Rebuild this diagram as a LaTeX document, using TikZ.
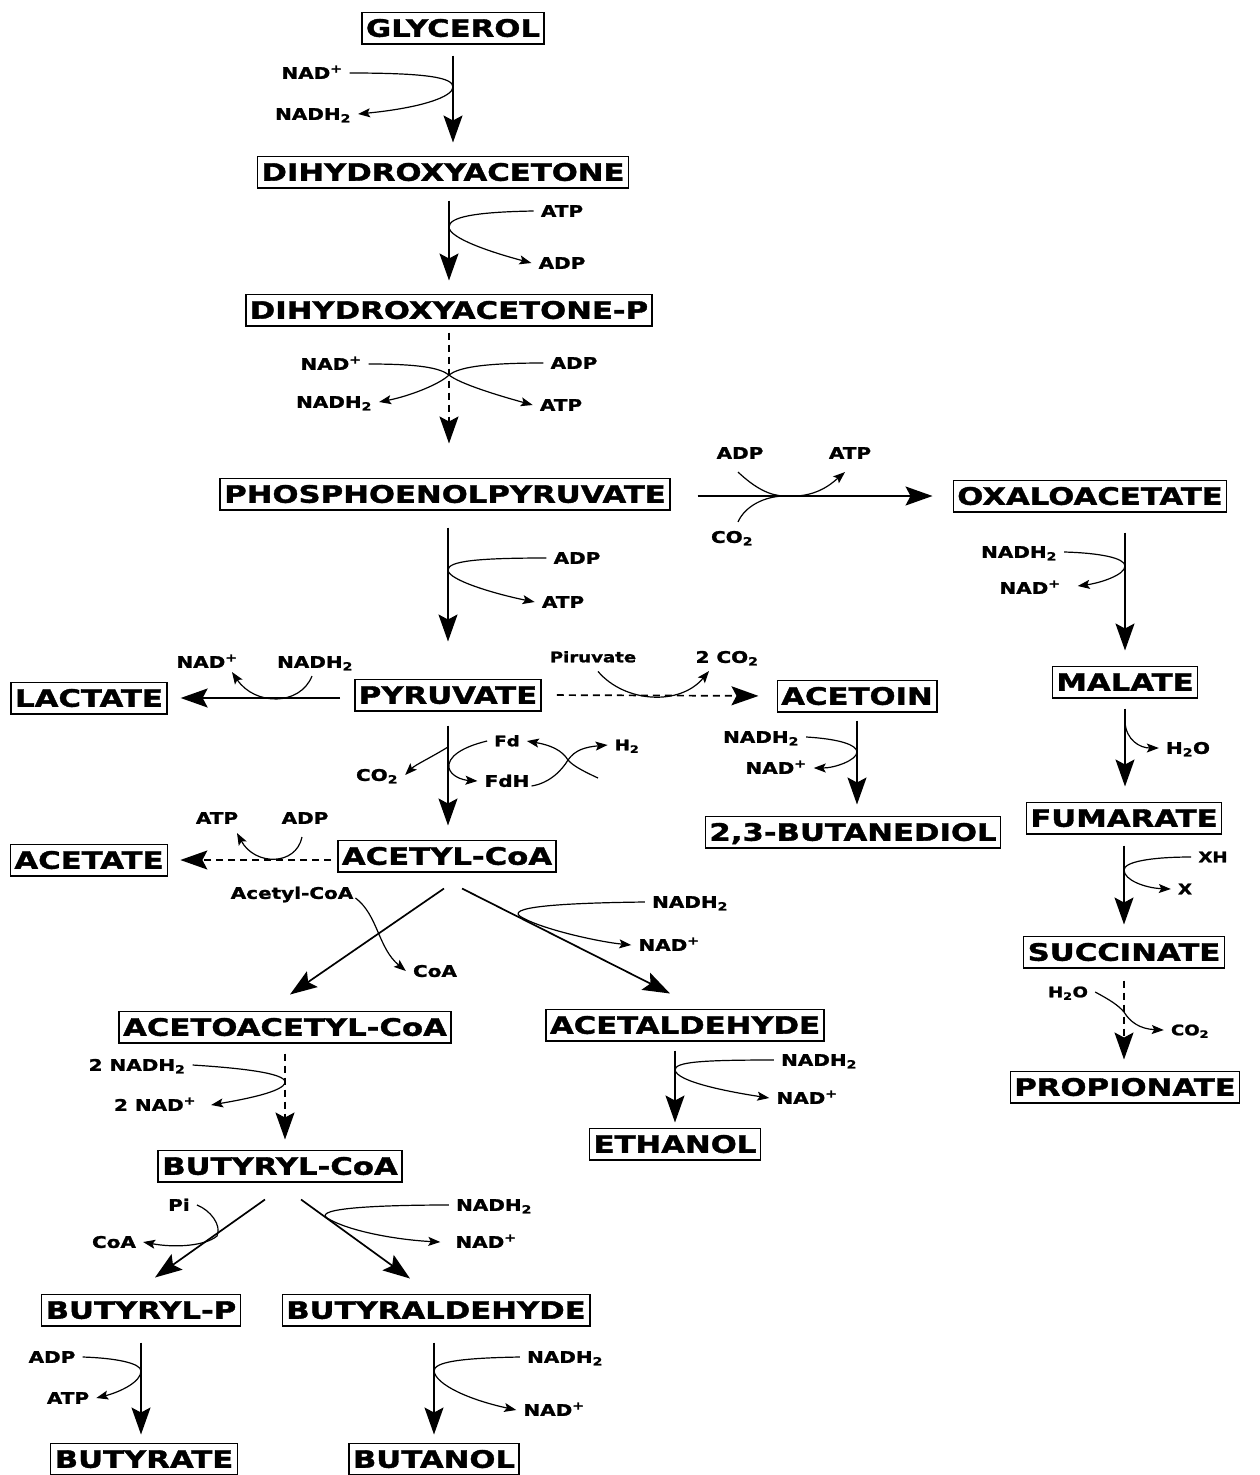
\documentclass[tikz,border=0pt]{standalone}
\usepackage{fontspec}
\setmainfont{DejaVu Sans}[FakeStretch=1.25, BoldFeatures={FakeBold=1.5}]
\newfontfamily\boxfont{DejaVu Sans}[FakeStretch=1.28, BoldFeatures={FakeBold=1.5}]
\usetikzlibrary{arrows.meta,calc}
\newcommand\NADp{NAD\textsuperscript{+}}
\newcommand\NADHt{NADH\textsubscript{2}}
\newcommand\COt{CO\textsubscript{2}}
\newcommand\Htwo{H\textsubscript{2}}
\newcommand\HtO{H\textsubscript{2}O}
\begin{document}
\begin{tikzpicture}[x=1pt,y=-1pt,
 box/.style={draw,line width=1.5pt,inner xsep=4pt,inner ysep=7pt,text height=17.5pt,text depth=0pt,font=\boxfont\bfseries\fontsize{24}{26}\selectfont},
 lab/.style={inner xsep=7pt,inner ysep=3pt,text height=11.7pt,text depth=0pt,font=\bfseries\fontsize{16}{18}\selectfont},
 slab/.style={inner xsep=7pt,inner ysep=3pt,text height=10.5pt,text depth=0pt,font=\bfseries\fontsize{14.5}{16}\selectfont},
 main/.style={line width=1.7pt,-{Stealth[length=27pt,width=19pt,inset=5pt]}},
 sub/.style={line width=1.2pt,-{Stealth[length=12pt,width=9pt,inset=2.5pt]}},
 plain/.style={line width=1.2pt},
 dsh/.style={dash pattern=on 7pt off 5pt}
]
\fill[white] (0,0) rectangle (1259,1475);
\useasboundingbox (0,0) rectangle (1259,1475);

% ---------- boxes ----------
\node[box] (gly) at (453,28) {GLYCEROL};
\node[box] (dha) at (443,172) {DIHYDROXYACETONE};
\node[box] (dhap) at (449,310) {DIHYDROXYACETONE-P};
\node[box] (pep) at (445,494) {PHOSPHOENOLPYRUVATE};
\node[box] (oxa) at (1090,496) {OXALOACETATE};
\node[box] (pyr) at (448,695) {PYRUVATE};
\node[box] (lac) at (89,698) {LACTATE};
\node[box] (acn) at (857,696) {ACETOIN};
\node[box] (mal) at (1125,682) {MALATE};
\node[box] (fum) at (1124,818) {FUMARATE};
\node[box] (suc) at (1124,952) {SUCCINATE};
\node[box] (pro) at (1125,1087) {PROPIONATE};
\node[box] (bdo) at (853,832) {2,3-BUTANEDIOL};
\node[box] (ace) at (89,860) {ACETATE};
\node[box] (acoa) at (447,856) {ACETYL-CoA};
\node[box] (aacoa) at (285,1027) {ACETOACETYL-CoA};
\node[box] (ald) at (685,1025) {ACETALDEHYDE};
\node[box] (eth) at (675,1144) {ETHANOL};
\node[box] (bcoa) at (280,1166) {BUTYRYL-CoA};
\node[box] (bp) at (141,1310) {BUTYRYL-P};
\node[box] (bald) at (436,1310) {BUTYRALDEHYDE};
\node[box] (but) at (144,1459) {BUTYRATE};
\node[box] (bol) at (434,1459) {BUTANOL};

% ---------- labels ----------
\node[lab] (l1a) at (312,73) {\NADp};
\node[lab] (l1b) at (313,114) {\NADHt};
\node[lab] (l2a) at (562,211) {ATP};
\node[lab] (l2b) at (562,263) {ADP};
\node[lab] (l3a) at (331,364) {\NADp};
\node[lab] (l3b) at (334,402) {\NADHt};
\node[lab] (l3c) at (574,363) {ADP};
\node[lab] (l3d) at (561,405) {ATP};
\node[lab] (l4a) at (577,558) {ADP};
\node[lab] (l4b) at (563,602) {ATP};
\node[lab] (l5a) at (740,453) {ADP};
\node[lab] (l5b) at (850,453) {ATP};
\node[lab] (l5c) at (732,537) {\COt};
\node[lab] (l6a) at (1019,552) {\NADHt};
\node[lab] (l6b) at (1030,588) {\NADp};
\node[lab] (l7) at (1188,748) {\HtO};
\node[slab] (l8a) at (1213,857) {XH};
\node[slab] (l8b) at (1185,889) {X};
\node[slab] (l9a) at (1068,992) {\HtO};
\node[slab] (l9b) at (1190,1030) {\COt};
\node[lab] (l10a) at (207,662) {\NADp};
\node[lab] (l10b) at (315,662) {\NADHt};
\node[slab] (l11a) at (593,657) {Piruvate};
\node[lab] (l11b) at (727,657) {2 \COt};
\node[lab] (l12a) at (761,737) {\NADHt};
\node[lab] (l12b) at (776,768) {\NADp};
\node[lab] (l13a) at (377,775) {\COt};
\node[slab] (l13b) at (507,741) {Fd};
\node[lab] (l13c) at (507,781) {FdH};
\node[slab] (l13d) at (627,745) {\Htwo};
\node[lab] (l14a) at (217,818) {ATP};
\node[lab] (l14b) at (305,818) {ADP};
\node[lab] (l15a) at (292,893) {Acetyl-CoA};
\node[lab] (l15b) at (435,971) {CoA};
\node[lab] (l16a) at (690,902) {\NADHt};
\node[lab] (l16b) at (669,945) {\NADp};
\node[lab] (l17a) at (137,1065) {2 \NADHt};
\node[lab] (l17b) at (155,1105) {2 \NADp};
\node[lab] (l18a) at (819,1060) {\NADHt};
\node[lab] (l18b) at (807,1098) {\NADp};
\node[lab] (l19a) at (179,1205) {Pi};
\node[lab] (l19b) at (114,1242) {CoA};
\node[lab] (l20a) at (494,1205) {\NADHt};
\node[lab] (l20b) at (486,1242) {\NADp};
\node[lab] (l21a) at (52,1357) {ADP};
\node[lab] (l21b) at (68,1398) {ATP};
\node[lab] (l22a) at (565,1357) {\NADHt};
\node[lab] (l22b) at (554,1410) {\NADp};

% ---------- main reaction arrows ----------
\draw[main,shorten <=11pt,shorten >=13pt] (gly.south) -- (gly.south |- dha.north);
\draw[main,shorten <=12pt,shorten >=13pt] (dhap.north |- dha.south) -- (dhap.north);
\draw[main,dsh,shorten <=6pt,shorten >=34pt] (dhap.south) -- (dhap.south |- pep.north);
\draw[main,shorten <=17pt,shorten >=37pt] (pyr.north |- pep.south) -- (pyr.north);
\draw[main,shorten <=27pt,shorten >=20pt] (pep.east |- oxa.west) -- (oxa.west);
\draw[main,shorten <=20pt,shorten >=15pt] (mal.north |- oxa.south) -- (mal.north);
\draw[main,shorten <=10pt,shorten >=15pt] (mal.south) -- (mal.south |- fum.north);
\draw[main,shorten <=11pt,shorten >=11pt] (fum.south) -- (fum.south |- suc.north);
\draw[main,dsh,shorten <=12pt,shorten >=11pt] (suc.south) -- (suc.south |- pro.north);
\draw[main,shorten <=14pt,shorten >=13pt] (pyr.west |- lac.east) -- (lac.east);
\draw[main,dsh,shorten <=15pt,shorten >=18pt] (pyr.east) -- (acn.west);
\draw[main,shorten <=8pt,shorten >=11pt] (acn.south) -- (acn.south |- bdo.north);
\draw[main,shorten <=14pt,shorten >=14pt] (pyr.south) -- (pyr.south |- acoa.north);
\draw[main,dsh,shorten <=6pt,shorten >=12pt] (acoa.west |- ace.east) -- (ace.east);
\draw[main] ($(acoa.south)+(-3,16)$) -- ($(aacoa.north)+(5,-16)$);
\draw[main] ($(acoa.south)+(15,16)$) -- ($(ald.north)+(-15,-15)$);
\draw[main,dsh,shorten <=10pt,shorten >=10pt] (aacoa.south) -- (aacoa.south |- bcoa.north);
\draw[main,shorten <=9pt,shorten >=5pt] (eth.north |- ald.south) -- (eth.north);
\draw[main] ($(bcoa.south)+(-15,17)$) -- ($(bp.north)+(14,-16)$);
\draw[main] ($(bcoa.south)+(21,17)$) -- ($(bald.north)+(-26,-15)$);
\draw[main,shorten <=16pt,shorten >=8pt] (bp.south) -- (bp.south |- but.north);
\draw[main,shorten <=16pt,shorten >=8pt] (bol.north |- bald.south) -- (bol.north);

% ---------- cofactor curves ----------
\draw[sub] (l1a.east) .. controls (430,73) and (453,78) .. (453,87) .. controls (453,97) and (420,108) .. (l1b.east);
\draw[sub] (l2a.west) .. controls (475,212) and (449,217) .. (449,227) .. controls (449,238) and (490,252) .. (l2b.west);
\draw[sub] (l3a.east) .. controls (420,364) and (440,368) .. (449,375) .. controls (460,384) and (500,396) .. (l3d.west);
\draw[sub] (l3c.west) .. controls (480,363) and (458,368) .. (449,375) .. controls (440,384) and (410,396) .. (l3b.east);
\draw[sub] (l4a.west) .. controls (478,558) and (448,561) .. (448,570) .. controls (448,580) and (495,594) .. (l4b.west);
\draw[plain] ($(l5a.south)+(-2,10)$) .. controls (755,488) and (770,496) .. (785,496);
\draw[plain] ($(l5c.north)+(6,-6)$) .. controls (745,506) and (765,496) .. (785,496);
\draw[sub] (785,496) .. controls (815,498) and (830,485) .. ($(l5b.south)+(-5,10)$);
\draw[sub] (l6a.east) .. controls (1100,553) and (1125,558) .. (1125,566) .. controls (1125,575) and (1100,583) .. ($(l6b.east)+(10,-2)$);
\draw[sub] (1125,722) .. controls (1126,740) and (1140,748) .. (l7.west);
\draw[sub] (l8a.west) .. controls (1150,857) and (1124,862) .. (1124,870) .. controls (1124,880) and (1145,888) .. (l8b.west);
\draw[sub] (l9a.east) .. controls (1110,1000) and (1118,1005) .. (1124,1012) .. controls (1130,1022) and (1140,1029) .. (l9b.west);
\draw[sub] ($(l10b.south)+(-3,5)$) .. controls (300,706) and (255,706) .. ($(l10a.south)+(25,1)$);
\draw[sub] ($(l11a.south)+(5,6)$) .. controls (625,703) and (680,706) .. ($(l11b.south)+(-18,5)$);
\draw[sub] (l12a.east) .. controls (840,739) and (857,745) .. (857,752) .. controls (857,760) and (835,768) .. (l12b.east);
\draw[sub] (448,747) .. controls (430,758) and (415,765) .. (l13a.east);
\draw[sub] (l13b.west) .. controls (462,747) and (447,757) .. (449,768) .. controls (451,776) and (462,780) .. (l13c.west);
\draw[sub] ($(l13c.east)+(-5,5)$) .. controls (550,783) and (562,770) .. (568,760) .. controls (575,750) and (585,747) .. (l13d.west);
\draw[sub] (598,778) .. controls (585,772) and (573,766) .. (568,760) .. controls (562,750) and (550,745) .. (l13b.east);
\draw[sub] ($(l14b.south)+(-3,10)$) .. controls (296,866) and (255,866) .. ($(l14a.south)+(20,6)$);
\draw[sub] ($(l15a.east)+(-5,5)$) .. controls (378,915) and (378,948) .. (l15b.west);
\draw[sub] (l16a.west) .. controls (560,903) and (500,907) .. (523,918) .. controls (545,930) and (600,942) .. (l16b.west);
\draw[sub] (l17a.east) .. controls (240,1068) and (285,1073) .. (285,1082) .. controls (285,1092) and (240,1100) .. ($(l17b.east)+(8,0)$);
\draw[sub] (l18a.west) .. controls (700,1060) and (675,1062) .. (675,1070) .. controls (677,1082) and (730,1092) .. (l18b.west);
\draw[sub] (l19a.east) .. controls (210,1210) and (222,1225) .. (217,1236) .. controls (205,1246) and (175,1248) .. (l19b.east);
\draw[sub] (l20a.west) .. controls (380,1205) and (313,1208) .. (327,1218) .. controls (350,1232) and (400,1240) .. ($(l20b.west)+(-8,0)$);
\draw[sub] (l21a.east) .. controls (115,1358) and (141,1363) .. (141,1371) .. controls (141,1382) and (120,1392) .. (l21b.east);
\draw[sub] (l22a.west) .. controls (460,1358) and (434,1362) .. (434,1371) .. controls (436,1385) and (470,1400) .. (l22b.west);
\end{tikzpicture}
\end{document}
